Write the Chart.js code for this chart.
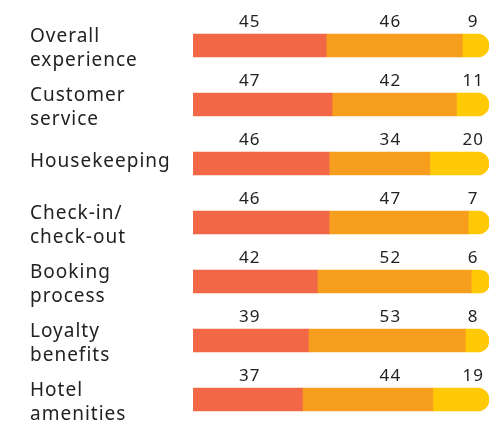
<!DOCTYPE html>
<html>
<head>
<meta charset="utf-8">
<script src="https://cdn.jsdelivr.net/npm/chart.js@4"></script>
<style>
  html, body { margin: 0; padding: 0; background: #fff; }
  #wrap { width: 490px; height: 430px; position: relative; }
</style>
</head>
<body>
<div id="wrap"><canvas id="c" width="490" height="430"></canvas></div>
<script>
const categories = [
  ["Overall", "experience"],
  ["Customer", "service"],
  ["Housekeeping"],
  ["Check-in/", "check-out"],
  ["Booking", "process"],
  ["Loyalty", "benefits"],
  ["Hotel", "amenities"]
];
const seriesA = [45, 47, 46, 46, 42, 39, 37];
const seriesB = [46, 42, 34, 47, 52, 53, 44];
const seriesC = [9, 11, 20, 7, 6, 8, 19];

const FONT = "'Noto Sans', sans-serif";

const spacing = {
  id: 'spacing',
  beforeUpdate(chart) { chart.ctx.letterSpacing = '1px'; },
  beforeLayout(chart) { chart.ctx.letterSpacing = '1px'; },
  beforeDraw(chart) { chart.ctx.letterSpacing = '1px'; }
};

const valueLabels = {
  id: 'valueLabels',
  afterDatasetsDraw(chart) {
    const ctx = chart.ctx;
    const xs = chart.scales.x;
    const cols = [19, 66.5, 94.5];
    ctx.save();
    ctx.font = "17px " + FONT;
    ctx.letterSpacing = '1.2px';
    ctx.fillStyle = '#222';
    ctx.textAlign = 'center';
    ctx.textBaseline = 'alphabetic';
    chart.data.datasets.forEach((ds, di) => {
      const meta = chart.getDatasetMeta(di);
      meta.data.forEach((el, i) => {
        const x = xs.getPixelForValue(cols[di]) + 0.6;
        const y = el.y - el.height / 2 - 7;
        ctx.fillText(String(ds.data[i]), x, y);
      });
    });
    ctx.restore();
  }
};

new Chart(document.getElementById('c'), {
  type: 'bar',
  data: {
    labels: categories,
    datasets: [
      { data: seriesA, backgroundColor: '#F26846', borderWidth: 0, borderRadius: 0 },
      { data: seriesB, backgroundColor: '#F79E1F', borderWidth: 0, borderRadius: 0 },
      { data: seriesC, backgroundColor: '#FFC905', borderWidth: 0,
        borderRadius: { topRight: 12, bottomRight: 12, topLeft: 0, bottomLeft: 0 },
        borderSkipped: false }
    ]
  },
  options: {
    indexAxis: 'y',
    responsive: false,
    animation: false,
    devicePixelRatio: 1,
    layout: { padding: { left: 30, right: 1, top: 16, bottom: 1 } },
    datasets: { bar: { barThickness: 23 } },
    plugins: { legend: { display: false }, tooltip: { enabled: false } },
    scales: {
      x: { stacked: true, min: 0, max: 100, display: false },
      y: {
        stacked: true,
        grid: { display: false },
        border: { display: false },
        afterFit(scale) {
          scale.width = 163;
          scale.paddingTop = 0;
          scale.paddingBottom = 0;
        },
        ticks: {
          crossAlign: 'far',
          color: '#222',
          padding: 0,
          labelOffset: 3,
          callback(value, index) {
            const l = categories[index];
            return l.length === 1 ? [l[0], ''] : l;
          },
          font(ctx) {
            const single = categories[ctx.index] && categories[ctx.index].length === 1;
            return { family: FONT, size: 19, lineHeight: single ? 0.47 : 1.23 };
          }
        }
      }
    }
  },
  plugins: [spacing, valueLabels]
});
</script>
</body>
</html>
